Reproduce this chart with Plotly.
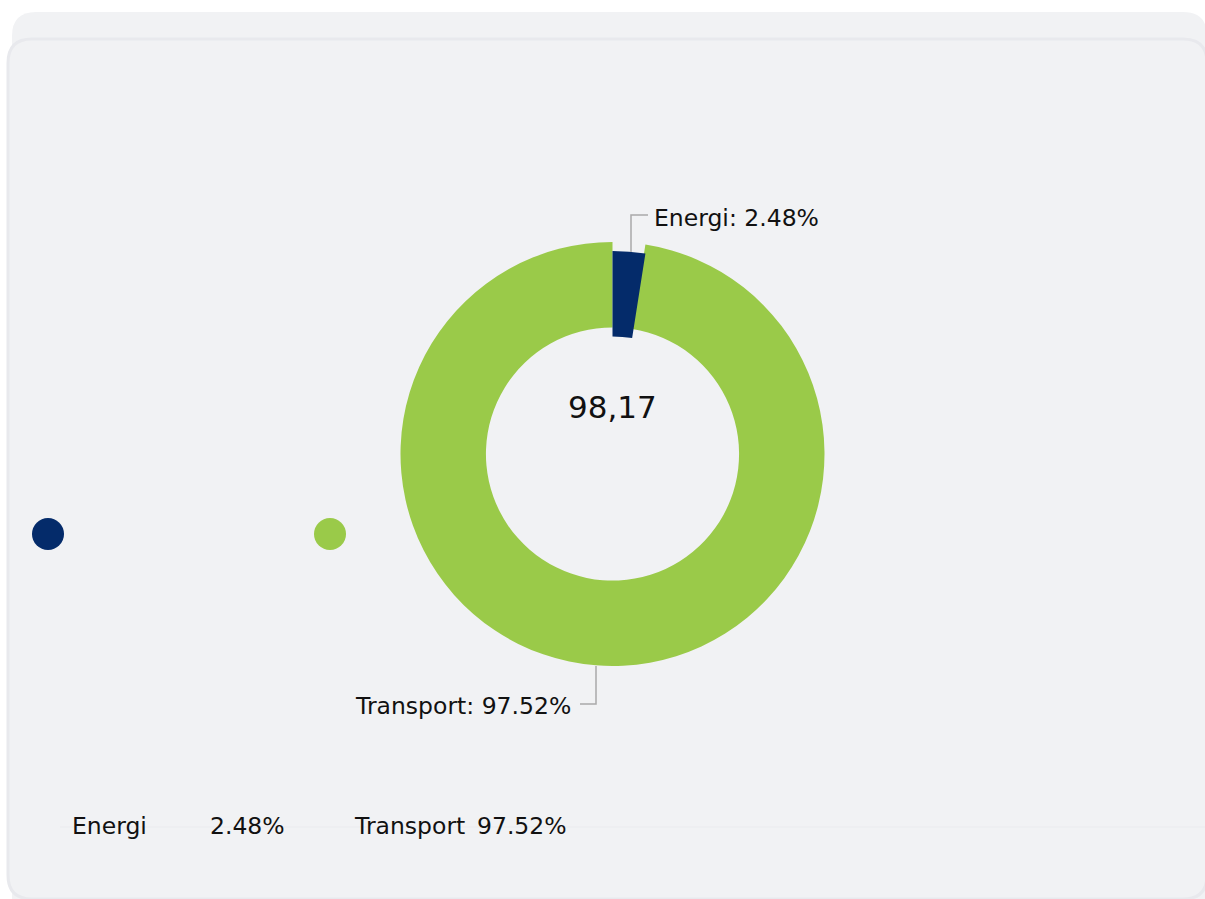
import plotly.graph_objects as go

# ---- data ----
categories = ["Energi", "Transport"]
shares = [2.48, 97.52]
share_labels = ["2.48%", "97.52%"]
colors = ["#042b6a", "#9aca49"]
center_value = "98,17"

W, H = 1205, 899
FONT = "DejaVu Sans, Verdana, sans-serif"
TXT = "#111111"
FS = 23.5


def px(x):
    return x / W


def py(y):
    return 1 - y / H


def rounded_rect(x0, y0, x1, y1, r):
    X0, X1 = px(x0), px(x1)
    Y0, Y1 = py(y0), py(y1)
    rx, ry = r / W, r / H
    return (f"M {X0+rx},{Y0} L {X1-rx},{Y0} Q {X1},{Y0} {X1},{Y0-ry} "
            f"L {X1},{Y1+ry} Q {X1},{Y1} {X1-rx},{Y1} L {X0+rx},{Y1} "
            f"Q {X0},{Y1} {X0},{Y1+ry} L {X0},{Y0-ry} Q {X0},{Y0} {X0+rx},{Y0} Z")


cx, cy, R = 612.5, 454, 212
shift = 9  # the highlighted first slice sits slightly lower

fig = go.Figure()
fig.add_trace(go.Pie(
    labels=categories, values=shares, hole=0.597, sort=False,
    direction="clockwise", rotation=0, textinfo="none", hoverinfo="label+percent",
    marker=dict(colors=["rgba(0,0,0,0)", colors[1]], line=dict(width=0)),
    domain=dict(x=[px(cx - R), px(cx + R)], y=[py(cy + R), py(cy - R)]),
    showlegend=False,
))
fig.add_trace(go.Pie(
    labels=categories, values=shares, hole=0.597, sort=False,
    direction="clockwise", rotation=0, textinfo="none", hoverinfo="label+percent",
    marker=dict(colors=[colors[0], "rgba(0,0,0,0)"], line=dict(width=0)),
    domain=dict(x=[px(cx - R), px(cx + R)], y=[py(cy + R + shift), py(cy - R + shift)]),
    showlegend=False,
))

shapes = [
    dict(type="path", xref="paper", yref="paper", path=rounded_rect(12, 12, 1207, 960, 24),
         fillcolor="#f1f2f4", line=dict(width=0), layer="below"),
    dict(type="path", xref="paper", yref="paper", path=rounded_rect(8, 39, 1207, 899, 24),
         fillcolor="#f1f2f4", line=dict(color="#e8e9ed", width=3), layer="below"),
    dict(type="line", xref="paper", yref="paper", x0=px(60), x1=px(1205), y0=py(827), y1=py(827),
         line=dict(color="#eaebee", width=1), layer="below"),
    dict(type="path", xref="paper", yref="paper",
         path=f"M {px(631)},{py(252)} L {px(631)},{py(215)} L {px(648)},{py(215)}",
         line=dict(color="#a9a9a9", width=1.5)),
    dict(type="path", xref="paper", yref="paper",
         path=f"M {px(596)},{py(666)} L {px(596)},{py(704)} L {px(580)},{py(704)}",
         line=dict(color="#a9a9a9", width=1.5)),
]

dot_x = [48, 330]
for c, xx in zip(colors, dot_x):
    shapes.append(dict(type="circle", xref="paper", yref="paper",
                       x0=px(xx - 16), x1=px(xx + 16), y0=py(534 + 16), y1=py(534 - 16),
                       fillcolor=c, line=dict(width=0)))

annotations = [
    dict(text=center_value, x=px(cx), y=py(407), xref="paper", yref="paper",
         showarrow=False, font=dict(family=FONT, size=31, color=TXT),
         xanchor="center", yanchor="middle"),
    dict(text=f"{categories[0]}: {share_labels[0]}", x=px(652), y=py(218), xref="paper", yref="paper",
         showarrow=False, font=dict(family=FONT, size=FS, color=TXT), xanchor="left", yanchor="middle"),
    dict(text=f"{categories[1]}: {share_labels[1]}", x=px(573), y=py(706), xref="paper", yref="paper",
         showarrow=False, font=dict(family=FONT, size=FS, color=TXT), xanchor="right", yanchor="middle"),
]

legend_name_x = [70, 352]
legend_val_x = [208, 475]
for name, val, xn, xv in zip(categories, share_labels, legend_name_x, legend_val_x):
    annotations.append(dict(text=name, x=px(xn), y=py(826), xref="paper", yref="paper",
                            showarrow=False, font=dict(family=FONT, size=FS, color=TXT),
                            xanchor="left", yanchor="middle"))
    annotations.append(dict(text=val, x=px(xv), y=py(826), xref="paper", yref="paper",
                            showarrow=False, font=dict(family=FONT, size=FS, color=TXT),
                            xanchor="left", yanchor="middle"))

fig.update_layout(
    width=W, height=H, margin=dict(l=0, r=0, t=0, b=0),
    paper_bgcolor="white", plot_bgcolor="white",
    shapes=shapes, annotations=annotations, showlegend=False,
    font=dict(family=FONT),
)

fig.write_html("out.html", config={"displayModeBar": False},
               post_script="document.body.style.margin='0';document.body.style.overflow='hidden';")
